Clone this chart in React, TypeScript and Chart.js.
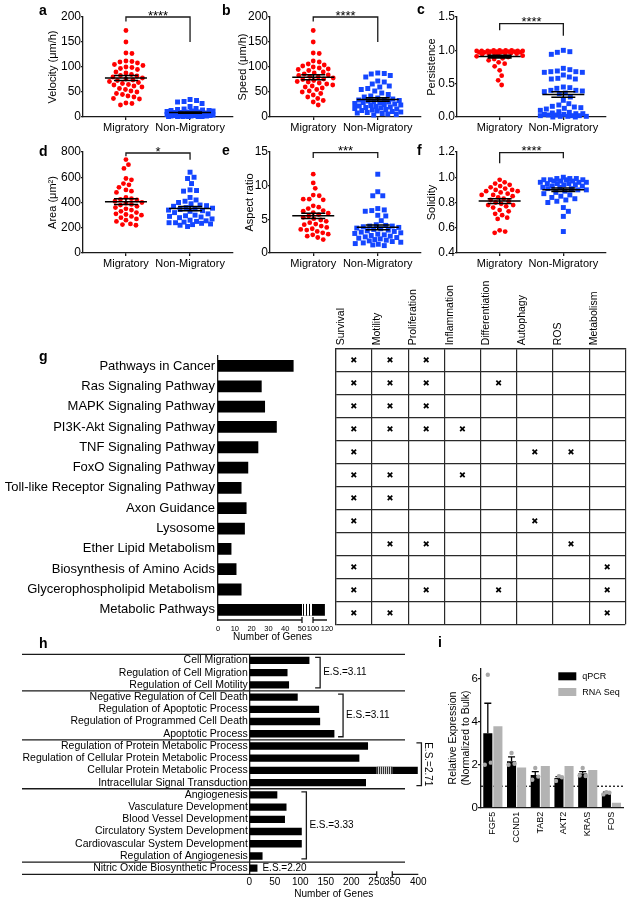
import React, { useEffect, useRef } from 'react';
import { Chart, registerables, LinearScale } from 'chart.js';

Chart.register(...registerables);

const FONT = "'Liberation Sans', Arial, Helvetica, sans-serif";
Chart.defaults.font.family = FONT;
Chart.defaults.color = '#000';

const RED = '#ff0000';
const BLUE = '#1446ff';
const INK = '#1a1a1a';

// ---------------- panels a–f ----------------
const groupLabels = ['Migratory', 'Non-Migratory'];

const velocityMigratory = [173, 150, 128, 127, 112, 110, 108, 105, 103, 111, 99, 97, 100, 95, 90, 88, 85, 83, 82, 80, 78, 76, 74, 73, 71, 69, 67, 65, 64, 62, 60, 57, 55, 52, 50, 47, 45, 42, 40, 37, 36, 28, 27, 24];
const velocityNonMigratory = [35, 33, 31, 30, 27, 21, 17, 16, 15, 14, 13, 13, 12, 12, 11, 10, 10, 9, 9, 8, 8, 7, 7, 6, 6, 6, 5, 5, 5, 5, 4, 4, 4, 4, 4, 3, 3, 3, 3, 3, 2, 2, 2, 2, 2, 1, 1, 1, 1, 1, 1];
const speedMigratory = [173, 150, 128, 127, 112, 110, 106, 104, 102, 100, 98, 96, 95, 93, 90, 88, 86, 84, 83, 81, 80, 78, 76, 75, 73, 71, 70, 68, 66, 64, 62, 60, 58, 55, 52, 50, 47, 44, 40, 37, 33, 30, 24];
const speedNonMigratory = [88, 87, 86, 83, 80, 72, 70, 66, 62, 60, 57, 55, 52, 48, 45, 42, 40, 38, 36, 35, 34, 33, 32, 31, 30, 29, 28, 27, 26, 25, 24, 23, 22, 21, 20, 19, 18, 17, 16, 15, 14, 13, 12, 11, 10, 9, 8, 7, 6, 5, 4];
const persistenceMigratory = [1.0, 1.0, 1.0, 1.0, 0.99, 0.99, 0.99, 0.99, 0.99, 0.98, 0.98, 0.98, 0.98, 0.98, 0.97, 0.97, 0.97, 0.97, 0.96, 0.96, 0.96, 0.95, 0.95, 0.94, 0.93, 0.92, 0.91, 0.9, 0.88, 0.87, 0.85, 0.82, 0.8, 0.76, 0.7, 0.62, 0.55, 0.48];
const persistenceNonMigratory = [1.0, 0.98, 0.97, 0.94, 0.73, 0.71, 0.69, 0.68, 0.68, 0.67, 0.67, 0.63, 0.6, 0.58, 0.57, 0.57, 0.45, 0.44, 0.43, 0.4, 0.4, 0.39, 0.38, 0.36, 0.35, 0.3, 0.25, 0.2, 0.18, 0.16, 0.15, 0.14, 0.13, 0.12, 0.1, 0.08, 0.07, 0.06, 0.05, 0.05, 0.04, 0.04, 0.03, 0.03, 0.02, 0.02, 0.02, 0.01, 0.01, 0.01, 0.0, 0.0];
const areaMigratory = [740, 700, 670, 590, 580, 550, 540, 520, 500, 490, 480, 440, 430, 425, 420, 410, 400, 395, 385, 380, 370, 360, 350, 340, 330, 320, 310, 305, 300, 290, 280, 270, 260, 250, 230, 225, 220];
const areaNonMigratory = [640, 600, 590, 550, 500, 495, 490, 440, 420, 410, 400, 390, 380, 375, 370, 360, 355, 350, 345, 340, 335, 330, 320, 310, 300, 295, 290, 285, 280, 270, 260, 255, 250, 245, 240, 240, 235, 230, 225, 220, 210];
const aspectMigratory = [11.7, 10.4, 9.6, 8.6, 8.5, 8.0, 8.0, 7.9, 7.0, 6.8, 6.6, 6.3, 6.2, 6.0, 5.9, 5.7, 5.5, 5.3, 5.1, 4.9, 4.7, 4.5, 4.3, 4.2, 4.0, 3.8, 3.6, 3.5, 3.4, 3.2, 3.0, 2.8, 2.7, 2.5, 2.3, 2.0];
const aspectNonMigratory = [11.7, 9.1, 8.5, 8.5, 6.6, 6.4, 6.3, 6.2, 5.6, 5.5, 4.8, 4.2, 4.1, 4.0, 4.0, 3.9, 3.8, 3.7, 3.6, 3.5, 3.4, 3.3, 3.2, 3.1, 3.0, 2.9, 2.8, 2.7, 2.6, 2.5, 2.4, 2.3, 2.2, 2.1, 2.0, 1.9, 1.8, 1.7, 1.6, 1.5, 1.4, 1.3, 1.2, 1.1];
const solidityMigratory = [0.98, 0.96, 0.95, 0.94, 0.93, 0.92, 0.91, 0.9, 0.9, 0.89, 0.89, 0.88, 0.87, 0.86, 0.86, 0.85, 0.84, 0.83, 0.82, 0.81, 0.8, 0.79, 0.78, 0.78, 0.77, 0.76, 0.74, 0.73, 0.71, 0.7, 0.68, 0.67, 0.58, 0.57, 0.56];
const solidityNonMigratory = [1.0, 0.99, 0.99, 0.99, 0.98, 0.98, 0.98, 0.98, 0.97, 0.97, 0.97, 0.96, 0.96, 0.96, 0.95, 0.95, 0.95, 0.94, 0.94, 0.93, 0.93, 0.92, 0.92, 0.91, 0.91, 0.9, 0.9, 0.89, 0.88, 0.87, 0.86, 0.85, 0.84, 0.83, 0.82, 0.81, 0.8, 0.76, 0.73, 0.69, 0.57];
const significance = ['****', '****', '****', '*', '***', '****'];

// ---------------- panel g ----------------
const pathways = ['Pathways in Cancer', 'Ras Signaling Pathway', 'MAPK Signaling Pathway', 'PI3K-Akt Signaling Pathway', 'TNF Signaling Pathway', 'FoxO Signaling Pathway', 'Toll-like Receptor Signaling Pathway', 'Axon Guidance', 'Lysosome', 'Ether Lipid Metabolism', 'Biosynthesis of Amino Acids', 'Glycerophospholipid Metabolism', 'Metabolic Pathways'];
const pathwayGenes = [45, 26, 28, 35, 24, 18, 14, 17, 16, 8, 11, 14, 117];
const pathwayTicks = [0, 10, 20, 30, 40, 50, 100, 120];
const functionColumns = ['Survival', 'Motility', 'Proliferation', 'Inflammation', 'Differentiation', 'Autophagy', 'ROS', 'Metabolism'];
const tableRows = ['1', '2', '3', '4', '5', '6', '7', '8', '9', '10', '11', '12'];
const tableMarks = [
  ['Survival', 'Motility', 'Proliferation'],
  ['Survival', 'Motility', 'Proliferation', 'Differentiation'],
  ['Survival', 'Motility', 'Proliferation'],
  ['Survival', 'Motility', 'Proliferation', 'Inflammation'],
  ['Survival', 'Autophagy', 'ROS'],
  ['Survival', 'Motility', 'Inflammation'],
  ['Survival', 'Motility'],
  ['Survival', 'Autophagy'],
  ['Motility', 'Proliferation', 'ROS'],
  ['Survival', 'Metabolism'],
  ['Survival', 'Proliferation', 'Differentiation', 'Metabolism'],
  ['Survival', 'Motility', 'Metabolism'],
];

// ---------------- panel h ----------------
const goTerms = ['Cell Migration', 'Regulation of Cell Migration', 'Regulation of Cell Motility', 'Negative Regulation of Cell Death', 'Regulation of Apoptotic Process', 'Regulation of Programmed Cell Death', 'Apoptotic Process', 'Regulation of Protein Metabolic Process', 'Regulation of Cellular Protein Metabolic Process', 'Cellular Protein Metabolic Process', 'Intracellular Signal Transduction', 'Angiogenesis', 'Vasculature Development', 'Blood Vessel Development', 'Circulatory System Development', 'Cardiovascular System Development', 'Regulation of Angiogenesis', 'Nitric Oxide Biosynthetic Process'];
const goGenes = [118, 75, 78, 95, 137, 139, 167, 233, 216, 399, 229, 55, 73, 70, 103, 103, 26, 16];
const goTicks = [0, 50, 100, 150, 200, 250, 350, 400];
const goGroupStarts = [0, 3, 7, 11, 17];
const goGroupEnds = [2, 6, 10, 16, 17];
const goEnrichment = ['E.S.=3.11', 'E.S.=3.11', 'E.S.=2.71', 'E.S.=3.33', 'E.S.=2.20'];

// ---------------- panel i ----------------
const genes = ['FGF5', 'CCND1', 'TAB2', 'AKT2', 'KRAS', 'FOS'];
const qpcrMean = [3.47, 2.17, 1.53, 1.38, 1.6, 0.68];
const qpcrSem = [1.4, 0.2, 0.15, 0.07, 0.08, 0.05];
const qpcrReplicates = [[6.2, 2.0, 2.1], [2.55, 2.0, 2.05], [1.85, 1.3, 1.45], [1.47, 1.25, 1.42], [1.85, 1.5, 1.48], [0.72, 0.62, 0.7]];
const rnaSeq = [3.8, 1.87, 1.95, 1.94, 1.76, 0.23];
const expressionTicks = [0, 2, 4, 6];
const bulkLevel = 1;

// ---------------- layout / styles ----------------
const scatterPanels = [
  { title: 'Velocity (\u03bcm/h)', mig: velocityMigratory, non: velocityNonMigratory, min: 0, max: 200, step: 50, dec: 0, sig: significance[0], bracket: [200, 191, 150], box: { left: 46, top: 0, width: 194, height: 145 }, plot: { left: 83, right: 233, top: 17, bottom: 117 } },
  { title: 'Speed (\u03bcm/h)', mig: speedMigratory, non: speedNonMigratory, min: 0, max: 200, step: 50, dec: 0, sig: significance[1], bracket: [200, 191, 150], box: { left: 236, top: 0, width: 194, height: 145 }, plot: { left: 270, right: 421, top: 17, bottom: 117 } },
  { title: 'Persistence', mig: persistenceMigratory, non: persistenceNonMigratory, min: 0, max: 1.5, step: 0.5, dec: 1, sig: significance[2], bracket: [1.4, 1.3, 1.22], box: { left: 425, top: 0, width: 206, height: 145 }, plot: { left: 457, right: 606, top: 17, bottom: 117 } },
  { title: 'Area (\u03bcm\u00b2)', mig: areaMigratory, non: areaNonMigratory, min: 0, max: 800, step: 200, dec: 0, sig: significance[3], bracket: [792, 766, 739], box: { left: 46, top: 138, width: 194, height: 143 }, plot: { left: 83, right: 233, top: 152, bottom: 253 } },
  { title: 'Aspect ratio', mig: aspectMigratory, non: aspectNonMigratory, min: 0, max: 15, step: 5, dec: 0, sig: significance[4], bracket: [14.9, 14.1, 14.1], box: { left: 243, top: 138, width: 187, height: 143 }, plot: { left: 270, right: 421, top: 152, bottom: 253 } },
  { title: 'Solidity', mig: solidityMigratory, non: solidityNonMigratory, min: 0.4, max: 1.2, step: 0.2, dec: 1, sig: significance[5], bracket: [1.195, 1.11, 1.15], box: { left: 425, top: 138, width: 206, height: 143 }, plot: { left: 457, right: 606, top: 152, bottom: 253 } },
];

const panelLetters = [
  { t: 'a', x: 39, y: 15 }, { t: 'b', x: 222, y: 15 }, { t: 'c', x: 417, y: 14 },
  { t: 'd', x: 39, y: 156 }, { t: 'e', x: 222, y: 155 }, { t: 'f', x: 417, y: 155 },
  { t: 'g', x: 39, y: 361 }, { t: 'h', x: 39, y: 648 }, { t: 'i', x: 438, y: 647 },
];

const gSegments = [{ from: 0, to: 50, size: 84 }, { from: 100, to: 120, size: 14 }];
const gGap = 11;
const hSegments = [{ from: 0, to: 250, size: 127.4 }, { from: 350, to: 400, size: 26 }];
const hGap = 15.6;
const goBracketValue = [139, 184, 406, 112, null];
const goRotated = [false, false, true, false, false];

// ---------------- broken linear scale ----------------
function makeBrokenScale(id: string, segs: any[], gap: number) {
  const total = segs.reduce((s, g) => s + g.size, 0) + gap * (segs.length - 1);
  class Broken extends (LinearScale as any) {
    getPixelForValue(value: any) {
      if (value === null || value === undefined || Number.isNaN(value)) return NaN;
      let acc = 0;
      for (let k = 0; k < segs.length; k++) {
        const s = segs[k];
        if (value <= s.to || k === segs.length - 1) {
          if (k > 0 && value < s.from) {
            const p = segs[k - 1];
            const t = (value - p.to) / (s.from - p.to);
            return (this as any).getPixelForDecimal((acc - gap + t * gap) / total);
          }
          return (this as any).getPixelForDecimal((acc + ((value - s.from) / (s.to - s.from)) * s.size) / total);
        }
        acc += s.size + gap;
      }
      return NaN;
    }
  }
  (Broken as any).id = id;
  (Broken as any).defaults = (LinearScale as any).defaults;
  return Broken;
}
Chart.register(makeBrokenScale('brokenG', gSegments, gGap) as any, makeBrokenScale('brokenH', hSegments, hGap) as any);

// ---------------- helpers ----------------
function swarm(values: number[], toPx: (v: number) => number, d: number, maxOff: number) {
  const order = values.map((_, i) => i).sort((a, b) => values[b] - values[a]);
  const placed: { x: number; y: number }[] = [];
  const out = new Array(values.length).fill(0);
  const step = 0.5;
  const nSteps = Math.floor((maxOff / step) * 2);
  for (const i of order) {
    const y = toPx(values[i]);
    let best = 0;
    let bestScore = -Infinity;
    for (let k = 0; k <= nSteps; k++) {
      const off = (k % 2 === 1 ? 1 : -1) * Math.ceil(k / 2) * step;
      let minD = Infinity;
      for (const p of placed) {
        const dd = Math.hypot(p.x - off, p.y - y);
        if (dd < minD) minD = dd;
      }
      if (minD >= d) { best = off; break; }
      if (minD > bestScore + 0.01) { bestScore = minD; best = off; }
    }
    placed.push({ x: best, y });
    out[i] = best;
  }
  return out;
}

const meanSemPlugin = {
  id: 'meanSem',
  afterDatasetsDraw(chart: any) {
    const { ctx } = chart;
    const xs = chart.scales.x;
    const ys = chart.scales.y;
    chart.data.datasets.forEach((ds: any, i: number) => {
      const vals = ds.data.map((p: any) => p.y);
      const n = vals.length;
      const m = vals.reduce((a: number, b: number) => a + b, 0) / n;
      const sd = Math.sqrt(vals.reduce((a: number, b: number) => a + (b - m) * (b - m), 0) / (n - 1));
      const sem = sd / Math.sqrt(n);
      const cx = xs.getPixelForValue(i + 1);
      const ym = ys.getPixelForValue(m);
      const y0 = ys.getPixelForValue(m - sem);
      const y1 = ys.getPixelForValue(m + sem);
      ctx.save();
      ctx.strokeStyle = '#000';
      ctx.lineWidth = 1.5;
      ctx.beginPath();
      ctx.moveTo(cx - 21, ym); ctx.lineTo(cx + 21, ym);
      ctx.moveTo(cx, y0); ctx.lineTo(cx, y1);
      ctx.moveTo(cx - 12, y0); ctx.lineTo(cx + 12, y0);
      ctx.moveTo(cx - 12, y1); ctx.lineTo(cx + 12, y1);
      ctx.stroke();
      ctx.restore();
    });
  },
};

function bracketPlugin(p: any) {
  return {
    id: 'sigBracket',
    afterDraw(chart: any) {
      const { ctx } = chart;
      const xs = chart.scales.x;
      const ys = chart.scales.y;
      const x1 = xs.getPixelForValue(1);
      const x2 = xs.getPixelForValue(2);
      const yt = ys.getPixelForValue(p.bracket[0]);
      const yl = ys.getPixelForValue(p.bracket[1]);
      const yr = ys.getPixelForValue(p.bracket[2]);
      ctx.save();
      ctx.strokeStyle = INK;
      ctx.lineWidth = 1.3;
      ctx.beginPath();
      ctx.moveTo(x1, yl); ctx.lineTo(x1, yt); ctx.lineTo(x2, yt); ctx.lineTo(x2, yr);
      ctx.stroke();
      ctx.fillStyle = '#000';
      ctx.font = `13px ${FONT}`;
      ctx.textAlign = 'center';
      ctx.textBaseline = 'alphabetic';
      ctx.fillText(p.sig, (x1 + x2) / 2, yt + 2.5);
      ctx.restore();
    },
  };
}

function makeScatter(canvas: HTMLCanvasElement, p: any) {
  const yW = p.plot.left - p.box.left;
  const xH = p.box.top + p.box.height - p.plot.bottom;
  const xGrid = { display: true, drawOnChartArea: false, tickLength: 3, color: INK, lineWidth: 1.3 };
  const yGrid = { display: true, drawOnChartArea: false, tickLength: 2, color: INK, lineWidth: 1.3 };
  const axisBorder = { display: true, color: INK, width: 1.3 };
  const chart = new Chart(canvas, {
    type: 'scatter',
    data: {
      datasets: [
        { label: groupLabels[0], data: p.mig.map((v: number) => ({ x: 1, y: v })), pointStyle: 'circle', pointRadius: 2.4, backgroundColor: RED, borderColor: RED, borderWidth: 0, clip: false } as any,
        { label: groupLabels[1], data: p.non.map((v: number) => ({ x: 2, y: v })), pointStyle: 'rect', pointRadius: 3.5, backgroundColor: BLUE, borderColor: BLUE, borderWidth: 0, clip: false } as any,
      ],
    },
    options: {
      responsive: false, maintainAspectRatio: false, animation: false, events: [],
      layout: { padding: { top: p.plot.top - p.box.top, right: p.box.left + p.box.width - p.plot.right, left: 0, bottom: 0 } },
      plugins: { legend: { display: false }, tooltip: { enabled: false } },
      scales: {
        x: {
          type: 'linear', min: 0.33, max: 2.67,
          afterBuildTicks: (s: any) => { s.ticks = [{ value: 1 }, { value: 2 }]; },
          afterFit: (s: any) => { s.height = xH; },
          ticks: { callback: (v: any) => groupLabels[Math.round(v) - 1], font: { size: 11 }, padding: 1, autoSkip: false, maxRotation: 0, color: '#000' },
          grid: xGrid, border: axisBorder,
        },
        y: {
          min: p.min, max: p.max,
          ticks: { stepSize: p.step, callback: (v: any) => Number(v).toFixed(p.dec), font: { size: 12 }, padding: 0, color: '#000' },
          afterFit: (s: any) => { s.width = yW; },
          grid: yGrid, border: axisBorder,
          title: { display: true, text: p.title, font: { size: 11 }, padding: { top: 0, bottom: 0 }, color: '#000' },
        },
      },
    } as any,
    plugins: [meanSemPlugin, bracketPlugin(p)],
  });
  const xs: any = chart.scales.x;
  const ys: any = chart.scales.y;
  const pxPerUnit = xs.getPixelForValue(2) - xs.getPixelForValue(1);
  [p.mig, p.non].forEach((vals: number[], di: number) => {
    const offs = swarm(vals, (v) => ys.getPixelForValue(v), di === 0 ? 5.6 : 6.2, 23);
    (chart.data.datasets[di] as any).data = vals.map((v, i) => ({ x: di + 1 + offs[i] / pxPerUnit, y: v }));
  });
  chart.update();
  return chart;
}

function brokenAxisPlugin(segs: any[], stripe: number) {
  return {
    id: 'brokenAxis',
    afterDatasetsDraw(chart: any) {
      const { ctx } = chart;
      const xs = chart.scales.x;
      const gx0 = xs.getPixelForValue(segs[0].to);
      const gx1 = xs.getPixelForValue(segs[1].from);
      const meta = chart.getDatasetMeta(0);
      ctx.save();
      meta.data.forEach((bar: any, i: number) => {
        const v = chart.data.datasets[0].data[i];
        if (v > segs[0].to) {
          const h = bar.height;
          const top = bar.y - h / 2;
          ctx.fillStyle = '#fff';
          ctx.fillRect(gx0, top, gx1 - gx0, h);
          ctx.strokeStyle = '#000';
          ctx.lineWidth = 1;
          ctx.beginPath();
          for (let x = gx0 + stripe / 2; x < gx1; x += stripe) { ctx.moveTo(x, top); ctx.lineTo(x, top + h); }
          ctx.stroke();
        }
      });
      ctx.restore();
    },
    afterDraw(chart: any) {
      const { ctx } = chart;
      const xs = chart.scales.x;
      const y = chart.chartArea.bottom;
      ctx.save();
      ctx.strokeStyle = INK;
      ctx.lineWidth = 1.3;
      segs.forEach((s: any, k: number) => {
        const a = xs.getPixelForValue(s.from);
        const b = xs.getPixelForValue(s.to);
        ctx.beginPath();
        ctx.moveTo(a, y); ctx.lineTo(b, y);
        if (k < segs.length - 1) { ctx.moveTo(b, y - 3); ctx.lineTo(b, y + 3); }
        if (k > 0) { ctx.moveTo(a, y - 3); ctx.lineTo(a, y + 3); }
        ctx.stroke();
      });
      ctx.restore();
    },
  };
}

function makePathways(canvas: HTMLCanvasElement) {
  return new Chart(canvas, {
    type: 'bar',
    data: { labels: pathways, datasets: [{ data: pathwayGenes, backgroundColor: '#000', barPercentage: 0.58, categoryPercentage: 1 }] },
    options: {
      indexAxis: 'y', responsive: false, maintainAspectRatio: false, animation: false, events: [],
      layout: { padding: { top: 10, right: 13, left: 0, bottom: 0 } },
      plugins: { legend: { display: false }, tooltip: { enabled: false } },
      scales: {
        x: {
          type: 'brokenG', min: 0, max: 120,
          afterBuildTicks: (s: any) => { s.ticks = pathwayTicks.map((v) => ({ value: v })); },
          afterFit: (s: any) => { s.height = 23; },
          ticks: { font: { size: 7.5 }, padding: 4, autoSkip: false, maxRotation: 0, callback: (v: any) => String(v), color: '#000' },
          grid: { display: false, drawTicks: false }, border: { display: false },
          title: { display: true, text: 'Number of Genes', font: { size: 10 }, padding: 0, color: '#000' },
        },
        y: {
          afterFit: (s: any) => { s.width = 218; },
          ticks: { font: { size: 13 }, padding: 3, autoSkip: false, color: '#000' },
          grid: { display: false, drawTicks: false }, border: { display: true, color: INK, width: 1.3 },
        },
      },
    } as any,
    plugins: [brokenAxisPlugin(gSegments, 3)],
  });
}

function makeTable(canvas: HTMLCanvasElement) {
  const points = tableMarks.flatMap((cols, r) => cols.map((c) => ({ x: c, y: tableRows[r] })));
  const grid = { display: true, offset: true, drawTicks: false, color: '#2a2a2a', lineWidth: 1.2 };
  const border = { display: true, color: '#2a2a2a', width: 1.2 };
  return new Chart(canvas, {
    type: 'scatter',
    data: { datasets: [{ data: points, pointStyle: 'crossRot', pointRadius: 3.2, borderColor: '#000', backgroundColor: '#000', borderWidth: 1.7, clip: false } as any] },
    options: {
      responsive: false, maintainAspectRatio: false, animation: false, events: [],
      layout: { padding: { top: 0, right: 5, left: 0, bottom: 5 } },
      plugins: { legend: { display: false }, tooltip: { enabled: false } },
      scales: {
        x: {
          type: 'category', labels: functionColumns, position: 'top', offset: true,
          afterFit: (s: any) => { s.height = 80.3; },
          ticks: { autoSkip: false, minRotation: 90, maxRotation: 90, padding: 3, font: { size: 10.5 }, color: '#000' },
          grid, border,
        },
        y: {
          type: 'category', labels: tableRows, offset: true,
          afterFit: (s: any) => { s.width = 3.3; },
          ticks: { display: false },
          grid, border,
        },
      },
    } as any,
  });
}

const goGroupsPlugin = {
  id: 'goGroups',
  afterDraw(chart: any) {
    const { ctx, chartArea } = chart;
    const xs = chart.scales.x;
    const ys = chart.scales.y;
    const rowY = (i: number) => ys.getPixelForValue(i);
    const half = (rowY(1) - rowY(0)) / 2;
    ctx.save();
    ctx.strokeStyle = INK;
    ctx.lineWidth = 1.3;
    ctx.beginPath();
    goGroupStarts.forEach((s) => {
      const y = rowY(s) - half;
      ctx.moveTo(22, y); ctx.lineTo(405, y);
    });
    const yb = rowY(goGroupEnds[goGroupEnds.length - 1]) + half;
    ctx.moveTo(22, yb); ctx.lineTo(chartArea.left, yb);
    ctx.stroke();
    ctx.fillStyle = '#000';
    ctx.font = `10px ${FONT}`;
    ctx.textBaseline = 'middle';
    goGroupStarts.forEach((s, g) => {
      const e = goGroupEnds[g];
      const ym = (rowY(s) + rowY(e)) / 2;
      const at = goBracketValue[g];
      if (at === null) {
        ctx.textAlign = 'left';
        ctx.fillText(goEnrichment[g], xs.getPixelForValue(goGenes[s]) + 5, ym);
        return;
      }
      const bx = xs.getPixelForValue(at);
      const y0 = rowY(s) - 3;
      const y1 = rowY(e) + 3;
      ctx.beginPath();
      ctx.moveTo(bx - 5, y0); ctx.lineTo(bx, y0); ctx.lineTo(bx, y1); ctx.lineTo(bx - 5, y1);
      ctx.stroke();
      if (goRotated[g]) {
        ctx.save();
        ctx.translate(bx + 6.5, ym);
        ctx.rotate(Math.PI / 2);
        ctx.textAlign = 'center';
        ctx.fillText(goEnrichment[g], 0, 0);
        ctx.restore();
      } else {
        ctx.textAlign = 'left';
        ctx.fillText(goEnrichment[g], bx + 3, ym);
      }
    });
    ctx.restore();
  },
};

function makeGo(canvas: HTMLCanvasElement) {
  return new Chart(canvas, {
    type: 'bar',
    data: { labels: goTerms, datasets: [{ data: goGenes, backgroundColor: '#000', barPercentage: 0.6, categoryPercentage: 1 }] },
    options: {
      indexAxis: 'y', responsive: false, maintainAspectRatio: false, animation: false, events: [],
      layout: { padding: { top: 14.3, right: 21.7, left: 0, bottom: 0 } },
      plugins: { legend: { display: false }, tooltip: { enabled: false } },
      scales: {
        x: {
          type: 'brokenH', min: 0, max: 400,
          afterBuildTicks: (s: any) => { s.ticks = goTicks.map((v) => ({ value: v })); },
          afterFit: (s: any) => { s.height = 25.7; },
          ticks: { font: { size: 10 }, padding: 2, autoSkip: false, maxRotation: 0, callback: (v: any) => String(v), color: '#000' },
          grid: { display: false, drawTicks: false }, border: { display: false },
          title: { display: true, text: 'Number of Genes', font: { size: 10 }, padding: 0, color: '#000' },
        },
        y: {
          afterFit: (s: any) => { s.width = 249.3; },
          ticks: { font: { size: 10.5 }, padding: 1.5, autoSkip: false, color: '#000' },
          grid: { display: false, drawTicks: false }, border: { display: true, color: INK, width: 1.3 },
        },
      },
    } as any,
    plugins: [brokenAxisPlugin(hSegments, 2), goGroupsPlugin],
  });
}

const expressionPlugin = {
  id: 'expressionExtras',
  beforeDatasetsDraw(chart: any) {
    const { ctx, chartArea } = chart;
    const y = chart.scales.y.getPixelForValue(bulkLevel);
    ctx.save();
    ctx.strokeStyle = INK;
    ctx.lineWidth = 1.3;
    ctx.setLineDash([2, 2]);
    ctx.beginPath();
    ctx.moveTo(chartArea.left, y); ctx.lineTo(chartArea.right, y);
    ctx.stroke();
    ctx.restore();
  },
  afterDatasetsDraw(chart: any) {
    const { ctx } = chart;
    const ys = chart.scales.y;
    const meta = chart.getDatasetMeta(0);
    const jitter = [0, -3, 3];
    ctx.save();
    meta.data.forEach((bar: any, i: number) => {
      const top = ys.getPixelForValue(qpcrMean[i] + qpcrSem[i]);
      ctx.strokeStyle = '#000';
      ctx.lineWidth = 1.3;
      ctx.beginPath();
      ctx.moveTo(bar.x, bar.y); ctx.lineTo(bar.x, top);
      ctx.moveTo(bar.x - 3.5, top); ctx.lineTo(bar.x + 3.5, top);
      ctx.stroke();
      ctx.fillStyle = '#a8a8a8';
      qpcrReplicates[i].forEach((v, k) => {
        ctx.beginPath();
        ctx.arc(bar.x + jitter[k % 3], ys.getPixelForValue(v), 2.2, 0, Math.PI * 2);
        ctx.fill();
      });
    });
    ctx.restore();
  },
  afterDraw(chart: any) {
    const { ctx, chartArea } = chart;
    const x = chartArea.right - 65;
    ctx.save();
    ctx.font = `9px ${FONT}`;
    ctx.textBaseline = 'middle';
    ctx.textAlign = 'left';
    chart.data.datasets.forEach((ds: any, k: number) => {
      const y = chartArea.top + 4 + k * 15.7;
      ctx.fillStyle = ds.backgroundColor;
      ctx.fillRect(x, y, 18, 8);
      ctx.fillStyle = '#000';
      ctx.fillText(ds.label, x + 24, y + 4.2);
    });
    ctx.restore();
  },
};

function makeExpression(canvas: HTMLCanvasElement) {
  return new Chart(canvas, {
    type: 'bar',
    data: {
      labels: genes,
      datasets: [
        { label: 'qPCR', data: qpcrMean, backgroundColor: '#000', categoryPercentage: 0.85, barPercentage: 0.9 },
        { label: 'RNA Seq', data: rnaSeq, backgroundColor: '#b3b3b3', categoryPercentage: 0.85, barPercentage: 0.9 },
      ],
    },
    options: {
      responsive: false, maintainAspectRatio: false, animation: false, events: [],
      layout: { padding: { top: 18.3, right: 7.7, left: 0, bottom: 0 } },
      plugins: { legend: { display: false }, tooltip: { enabled: false } },
      scales: {
        x: {
          afterFit: (s: any) => { s.height = 42.3; },
          ticks: { minRotation: 90, maxRotation: 90, autoSkip: false, font: { size: 9 }, padding: 4, color: '#000' },
          grid: { display: false, drawTicks: false }, border: { display: true, color: INK, width: 1.3 },
        },
        y: {
          min: 0, max: 6.5,
          afterBuildTicks: (s: any) => { s.ticks = expressionTicks.map((v) => ({ value: v })); },
          afterFit: (s: any) => { s.width = 41; },
          ticks: { font: { size: 11.5 }, padding: 0, color: '#000', callback: (v: any) => String(v) },
          grid: { display: true, drawOnChartArea: false, tickLength: 3, color: INK, lineWidth: 1.3 },
          border: { display: true, color: INK, width: 1.3 },
          title: { display: true, text: ['Relative Expression', '(Normalized to Bulk)'], font: { size: 10.5 }, padding: { top: 7, bottom: 0 }, color: '#000' },
        },
      },
    } as any,
    plugins: [expressionPlugin],
  });
}

// ---------------- components ----------------
function ChartBox({ box, make }: { box: { left: number; top: number; width: number; height: number }; make: (c: HTMLCanvasElement) => Chart }) {
  const ref = useRef<HTMLCanvasElement | null>(null);
  useEffect(() => {
    if (!ref.current) return;
    const chart = make(ref.current);
    return () => chart.destroy();
  }, []);
  return (
    <canvas
      ref={ref}
      width={box.width}
      height={box.height}
      style={{ position: 'absolute', left: box.left, top: box.top, width: box.width, height: box.height }}
    />
  );
}

export default function App() {
  return (
    <div style={{ position: 'absolute', left: 0, top: 0, width: 631, height: 900, background: '#fff', overflow: 'hidden', fontFamily: FONT }}>
      {scatterPanels.map((p, i) => (
        <ChartBox key={'s' + i} box={p.box} make={(c) => makeScatter(c, p)} />
      ))}
      <ChartBox box={{ left: 0, top: 345, width: 340, height: 298 }} make={makePathways} />
      <ChartBox box={{ left: 330, top: 268, width: 301, height: 362 }} make={makeTable} />
      <ChartBox box={{ left: 0, top: 640, width: 440, height: 260 }} make={makeGo} />
      <ChartBox box={{ left: 440, top: 650, width: 191, height: 200 }} make={makeExpression} />
      {panelLetters.map((l) => (
        <div
          key={l.t}
          style={{ position: 'absolute', left: l.x, top: l.y - 11.85, fontSize: 14, lineHeight: '14px', fontWeight: 'bold', color: '#000', fontFamily: FONT }}
        >
          {l.t}
        </div>
      ))}
    </div>
  );
}
